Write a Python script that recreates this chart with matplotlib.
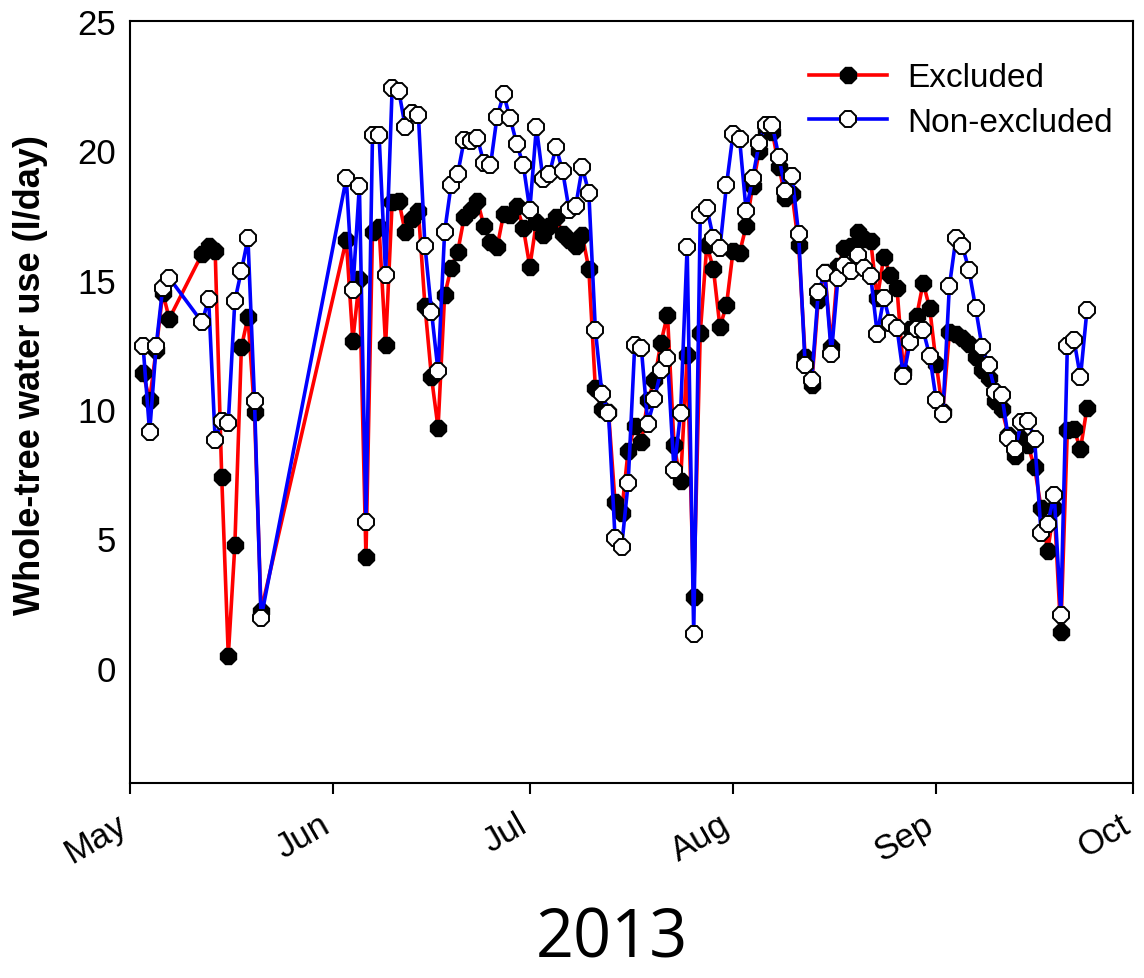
import datetime as dt
import matplotlib
matplotlib.use("Agg")
import matplotlib.pyplot as plt
import matplotlib.dates as mdates
import matplotlib.transforms as mtransforms

# sampling days per month (2013)
may_days = [3, 4, 5, 6, 7, 12, 13, 14, 15, 16, 17, 18, 19, 20, 21]
jun_days = [3, 4, 5, 6, 7, 8, 9, 10, 11, 12, 13, 14, 15, 16, 17, 18, 19, 20,
            21, 22, 23, 24, 25, 26, 27, 28, 29, 30]
jul_days = [1, 2, 3, 4, 5, 6, 7, 8, 9, 10, 11, 12, 13, 14, 15, 16, 17, 18, 19,
            20, 21, 22, 23, 24, 25, 26, 27, 28, 29, 30, 31]
aug_days = [1, 2, 3, 4, 5, 6, 7, 8, 9, 10, 11, 12, 13, 14, 15, 16, 17, 18, 19,
            20, 21, 22, 23, 24, 25, 26, 27, 28, 29, 30, 31]
sep_days = [1, 2, 3, 4, 5, 6, 7, 8, 9, 10, 11, 12, 13, 14, 15, 16, 17, 18, 19,
            20, 21, 22, 23, 24]

# Excluded (l/day)
may_excl = [11.4, 10.35, 12.3, 14.5, 13.5, 16.0, 16.3, 16.1, 7.37, 0.47, 4.73,
            12.4, 13.55, 9.88, 2.2]
jun_excl = [16.54, 12.65, 15.03, 4.3, 16.83, 17.03, 12.48, 18.0, 18.06, 16.83,
            17.35, 17.67, 14.0, 11.23, 9.28, 14.4, 15.47, 16.08, 17.43, 17.7,
            18.05, 17.08, 16.46, 16.25, 17.54, 17.5, 17.84, 17.01]
jul_excl = [15.51, 17.22, 16.73, 17.08, 17.43, 16.76, 16.53, 16.32, 16.73,
            15.42, 10.8, 10.0, 9.9, 6.4, 6.0, 8.4, 9.35, 8.74, 10.34, 11.12,
            12.57, 13.65, 8.62, 7.21, 12.09, 2.72, 12.95, 16.33, 15.43, 13.18,
            14.02]
aug_excl = [16.1, 16.05, 17.07, 18.63, 19.97, 20.78, 20.71, 19.37, 18.15, 18.33,
            16.35, 12.03, 10.95, 14.22, 15.3, 12.41, 15.53, 16.23, 16.3, 16.85,
            16.58, 16.5, 14.29, 15.88, 15.19, 14.7, 11.44, 13.11, 13.59, 14.88,
            13.9]
sep_excl = [11.75, 9.9, 12.97, 12.9, 12.75, 12.5, 12.0, 11.5, 11.2, 10.3, 10.0,
            9.0, 8.2, 8.85, 8.6, 7.75, 6.17, 4.53, 6.17, 1.38, 9.2, 9.23, 8.46,
            10.05]

# Non-excluded (l/day)
may_non = [12.45, 9.1, 12.45, 14.7, 15.07, 13.36, 14.26, 8.81, 9.56, 9.47,
           14.19, 15.35, 16.6, 10.33, 1.92]
jun_non = [18.92, 14.62, 18.64, 5.63, 20.6, 20.6, 15.19, 22.43, 22.3, 20.92,
           21.43, 21.37, 16.32, 13.77, 11.47, 16.85, 18.68, 19.1, 20.42, 20.37,
           20.48, 19.5, 19.43, 21.3, 22.17, 21.24, 20.26, 19.44]
jul_non = [17.7, 20.9, 18.9, 19.1, 20.13, 19.2, 17.7, 17.85, 19.34, 18.37,
           13.06, 10.6, 9.86, 5.03, 4.66, 7.15, 12.46, 12.38, 9.44, 10.38, 11.5,
           11.97, 7.63, 9.86, 16.28, 1.3, 17.51, 17.77, 16.62, 16.22, 18.66]
aug_non = [20.63, 20.44, 17.66, 18.95, 20.29, 21.0, 20.97, 19.74, 18.43, 19.02,
           16.78, 11.7, 11.14, 14.52, 15.26, 12.14, 15.05, 15.58, 15.33, 15.95,
           15.47, 15.16, 12.9, 14.29, 13.32, 13.15, 11.28, 12.58, 13.11, 13.04,
           12.07]
sep_non = [10.34, 9.81, 14.74, 16.6, 16.3, 15.37, 13.92, 12.39, 11.72, 10.65,
           10.55, 8.88, 8.44, 9.49, 9.56, 8.85, 5.2, 5.56, 6.7, 2.06, 12.45,
           12.69, 11.23, 13.85]

months = [(5, may_days), (6, jun_days), (7, jul_days), (8, aug_days), (9, sep_days)]
dates = [dt.date(2013, m, d) for m, days in months for d in days]
excluded = may_excl + jun_excl + jul_excl + aug_excl + sep_excl
non_excluded = may_non + jun_non + jul_non + aug_non + sep_non

plt.rcParams["font.family"] = ["Liberation Sans", "DejaVu Sans"]

fig = plt.figure(figsize=(11.44, 9.79), dpi=100)
ax = fig.add_axes([0.1136, 0.1992, 0.8767, 0.7783])

ax.plot(dates, excluded, color="red", lw=2.6, marker="8", ms=12,
        mfc="black", mec="black", mew=1.0, label="Excluded", zorder=3)
ax.plot(dates, non_excluded, color="blue", lw=2.6, marker="8", ms=12,
        mfc="white", mec="black", mew=1.4, label="Non-excluded", zorder=4)

ax.set_xlim(dt.date(2013, 5, 1), dt.date(2013, 10, 1))
ax.set_ylim(-4.45, 25)
ax.set_yticks([0, 5, 10, 15, 20, 25])
ax.xaxis.set_major_locator(mdates.MonthLocator())
ax.xaxis.set_major_formatter(mdates.DateFormatter("%b"))

ax.tick_params(axis="y", length=0, pad=10, labelsize=25)
ax.tick_params(axis="x", direction="out", length=8, width=1.5, pad=8, labelsize=25)
shift = mtransforms.ScaledTranslation(-14 / 100, -2 / 100, fig.dpi_scale_trans)
for lab in ax.get_xticklabels():
    lab.set_rotation(30)
    lab.set_ha("right")
    lab.set_rotation_mode("anchor")
    lab.set_transform(lab.get_transform() + shift)
for s in ax.spines.values():
    s.set_linewidth(1.5)

ax.set_ylabel("Whole-tree water use (l/day)", fontsize=26, fontweight="bold")
ax.yaxis.set_label_coords(-0.082, 0.537)

ax.legend(loc="upper right", bbox_to_anchor=(1.01, 0.985), frameon=False,
          fontsize=24, handlelength=2.35, handletextpad=0.6, labelspacing=0.4)

fig.text(0.535, 0.04, "2013", fontsize=48, family="Open Sans", ha="center", va="center")

plt.savefig("out.png", dpi=100)
